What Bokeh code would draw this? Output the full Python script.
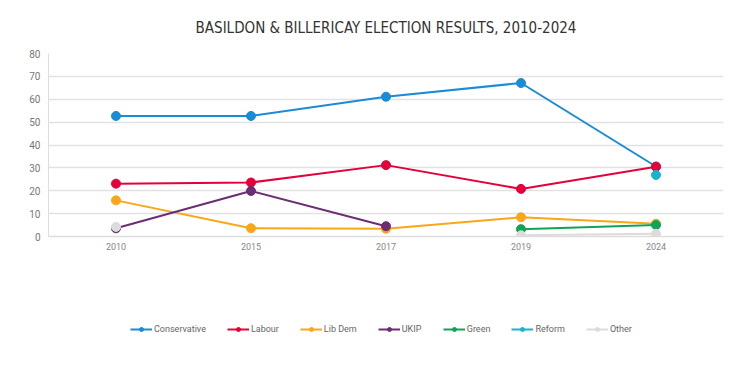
from bokeh.plotting import figure
from bokeh.layouts import column
from bokeh.models import Range1d, Legend, LegendItem, ColumnDataSource
from bokeh.embed import file_html
from bokeh.resources import INLINE

years = ["2010", "2015", "2017", "2019", "2024"]
nan = float("nan")
conservative = [52.7, 52.7, 61.1, 67.1, 30.6]
labour = [23.1, 23.6, 31.2, 20.8, 30.5]
lib_dem = [15.8, 3.6, 3.4, 8.4, 5.6]
ukip = [3.6, 19.9, 4.5, nan, nan]
green = [nan, nan, nan, 3.2, 5.0]
reform = [nan, nan, nan, nan, 26.9]
other = [4.2, nan, nan, 0.5, 1.2]

series = [
    ("Conservative", conservative, "#1A8BD6"),
    ("Labour", labour, "#E4003B"),
    ("Lib Dem", lib_dem, "#FAA61A"),
    ("UKIP", ukip, "#6B2D73"),
    ("Green", green, "#12A356"),
    ("Reform", reform, "#19B3CC"),
    ("Other", other, "#DCDCDC"),
]

p = figure(width=734, height=262, x_range=years, y_range=Range1d(0, 80),
           output_backend="svg", toolbar_location=None,
           min_border_left=48, min_border_right=11, min_border_top=51, min_border_bottom=26)

p.title.text = "BASILDON & BILLERICAY ELECTION RESULTS, 2010-2024"
p.title.align = "center"
p.title.text_font = "DejaVu Sans Condensed"
p.title.text_font_size = "15px"
p.title.text_font_style = "normal"
p.title.text_color = "#333333"
p.title.standoff = 33

p.outline_line_color = None
p.xgrid.grid_line_color = None
p.ygrid.grid_line_color = "#E2E2E2"
p.ygrid.grid_line_width = 1.5
p.yaxis.ticker = [0, 10, 20, 30, 40, 50, 60, 70, 80]
p.yaxis.axis_line_color = "#DDDDDD"
p.xaxis.axis_line_color = "#DDDDDD"
p.xaxis.axis_line_width = 1.5
p.yaxis.major_tick_line_color = None
p.yaxis.minor_tick_line_color = None
p.xaxis.major_tick_line_color = None
p.yaxis.major_tick_out = 0
p.xaxis.major_tick_out = 0
p.yaxis.major_label_text_color = "#777777"
p.xaxis.major_label_text_color = "#888888"
p.yaxis.major_label_text_font_size = "10px"
p.xaxis.major_label_text_font_size = "9px"
p.yaxis.major_label_text_font = "Roboto"
p.xaxis.major_label_text_font = "Roboto"
p.yaxis.major_label_standoff = 8
p.xaxis.major_label_standoff = 6

for name, vals, col in series:
    src = ColumnDataSource(dict(x=years, y=vals))
    p.line("x", "y", source=src, line_color=col, line_width=2)
    p.scatter("x", "y", source=src, size=9, fill_color=col, line_color=col)

# legend strip below the chart (same series, drawn outside its visible range)
p2 = figure(width=734, height=103, x_range=years, y_range=Range1d(1000, 1001),
            output_backend="svg", toolbar_location=None,
            min_border_left=0, min_border_right=0, min_border_top=0, min_border_bottom=0)
p2.axis.visible = False
p2.grid.grid_line_color = None
p2.outline_line_color = None

items = []
for name, vals, col in series:
    src = ColumnDataSource(dict(x=years, y=vals))
    r1 = p2.line("x", "y", source=src, line_color=col, line_width=2)
    r2 = p2.scatter("x", "y", source=src, size=9, fill_color=col, line_color=col)
    items.append(LegendItem(label=name, renderers=[r1, r2]))

legend = Legend(items=items, orientation="horizontal", location=(82, 31),
                label_text_font="Roboto", label_text_font_size="9px",
                label_text_color="#666666", glyph_width=22, glyph_height=10,
                label_standoff=2, spacing=21, border_line_color=None,
                background_fill_alpha=0, margin=0, padding=0)
p2.add_layout(legend)

layout = column(p, p2, spacing=0)
open("out.html", "w").write(file_html(layout, INLINE))
